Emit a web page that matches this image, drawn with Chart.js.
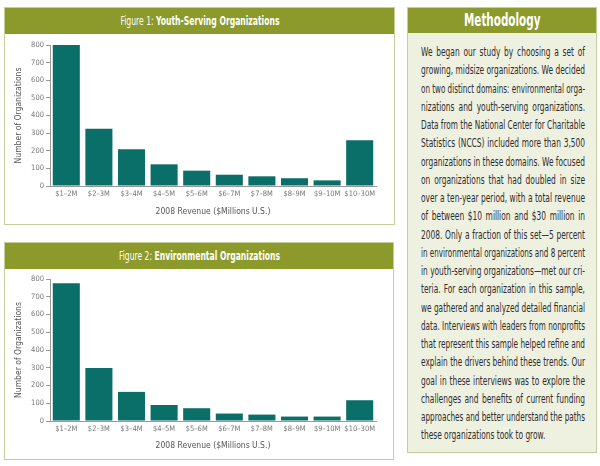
<!DOCTYPE html>
<html><head><meta charset="utf-8">
<script src="https://cdn.jsdelivr.net/npm/chart.js@4"></script>
<style>
html,body{margin:0;padding:0;background:#fff;width:600px;height:466px;overflow:hidden;font-family:"DejaVu Sans Condensed","Liberation Sans Narrow",sans-serif;}
.panel{position:absolute;border:1.5px solid #c6cd98;background:#fff;box-sizing:border-box;}
.hdr{position:absolute;left:0;right:0;top:0;background:#8b9a2a;color:#fff;text-align:center;overflow:hidden;}
.hdr span{display:inline-block;white-space:nowrap;transform:scaleX(0.68);}
#p1{left:4px;top:7px;width:391px;height:218px;}
#p2{left:4px;top:242px;width:390px;height:218px;}
#p1 .hdr,#p2 .hdr{height:26px;line-height:26px;font-size:12.5px;}
canvas{position:absolute;}
#meth{left:407px;top:7px;width:190px;height:446px;background:#eef0e0;}
#meth .hdr{height:25px;line-height:25px;font-size:17px;font-weight:bold;}
#txt{position:absolute;left:13px;top:35px;width:164px;font-size:12px;color:#2e2e2e;}
#txt div{height:18.25px;line-height:18.25px;white-space:nowrap;text-align:justify;text-align-last:justify;transform-origin:0 50%;}
#txt div.last{text-align-last:left;}
</style></head><body>
<div class="panel" id="p1"><div class="hdr"><span>Figure 1: <b>Youth-Serving Organizations</b></span></div></div>
<div class="panel" id="p2"><div class="hdr"><span>Figure 2: <b>Environmental Organizations</b></span></div></div>
<canvas id="c1" style="left:5px;top:34px;width:388px;height:190px" width="388" height="190"></canvas>
<canvas id="c2" style="left:5px;top:267px;width:388px;height:192px" width="388" height="192"></canvas>
<div class="panel" id="meth"><div class="hdr"><span>Methodology</span></div><div id="txt"></div></div>
<script>
const categories = ["$1–2M","$2–3M","$3–4M","$4–5M","$5–6M","$6–7M","$7–8M","$8–9M","$9–10M","$10–30M"];
const youthValues = [800, 325, 208, 123, 87, 64, 55, 44, 32, 259];
const envValues = [776, 299, 164, 90, 72, 42, 36, 25, 25, 117];
const yTicks = [0,100,200,300,400,500,600,700,800];
const xTitle = "2008 Revenue ($Millions U.S.)";
const yTitle = "Number of Organizations";
const methLines = [
"We began our study by choosing a set of",
"growing, midsize organizations. We decided",
"on two distinct domains: environmental orga-",
"nizations and youth-serving organizations.",
"Data from the National Center for Charitable",
"Statistics (NCCS) included more than 3,500",
"organizations in these domains. We focused",
"on organizations that had doubled in size",
"over a ten-year period, with a total revenue",
"of between $10 million and $30 million in",
"2008. Only a fraction of this set\u20145 percent",
"in environmental organizations and 8 percent",
"in youth-serving organizations\u2014met our cri-",
"teria. For each organization in this sample,",
"we gathered and analyzed detailed financial",
"data. Interviews with leaders from nonprofits",
"that represent this sample helped refine and",
"explain the drivers behind these trends. Our",
"goal in these interviews was to explore the",
"challenges and benefits of current funding",
"approaches and better understand the paths",
"these organizations took to grow."
];
const txt = document.getElementById('txt');
const TW = 164;
const divs = methLines.map((l,i)=>{const d=document.createElement('div');const s=document.createElement('span');s.textContent=l;d.appendChild(s);if(i===methLines.length-1)d.className='last';txt.appendChild(d);return d;});
const widths = divs.map(d=>d.firstChild.getBoundingClientRect().width);
const sorted = widths.slice(0,-1).sort((a,b)=>a-b);
const k = TW / sorted[Math.floor(sorted.length*0.5)];
divs.forEach((d,i)=>{
  let kk = Math.min(k, TW/widths[i]);
  if(i===divs.length-1) kk = k;
  d.style.width=(TW/kk)+'px';
  d.style.transform='scaleX('+kk+')';
  d.textContent=d.firstChild.textContent;
});
const FONT = '"DejaVu Sans Condensed","Liberation Sans Narrow",sans-serif';
function make(id, values, padTop, padBottom, xh){
  new Chart(document.getElementById(id), {
    type:'bar',
    data:{labels:categories,datasets:[{data:values,backgroundColor:'#0a6e69',barPercentage:0.83,categoryPercentage:1}]},
    options:{responsive:false,animation:false,devicePixelRatio:1,
      layout:{padding:{top:padTop,right:17,left:0,bottom:padBottom}},
      plugins:{legend:{display:false},tooltip:{enabled:false}},
      scales:{
        x:{grid:{display:true,drawOnChartArea:false,drawTicks:false},border:{color:'#999',width:1},
           ticks:{color:'#777',font:{family:FONT,size:7.5},padding:4,maxRotation:0,autoSkip:false},
           title:{display:true,text:xTitle,color:'#555',font:{family:FONT,size:8.5},padding:{top:2,bottom:0}},
           afterFit:s=>{s.height=xh;}},
        y:{min:0,max:800,afterBuildTicks:s=>{s.ticks=yTicks.map(v=>({value:v}));},
           grid:{display:true,drawOnChartArea:false,drawTicks:true,tickLength:4,color:'#999'},border:{color:'#999',width:1},
           ticks:{color:'#777',font:{family:FONT,size:7.5},padding:2},
           title:{display:true,text:yTitle,color:'#555',font:{family:FONT,size:8.5},padding:{top:9,bottom:0}},
           afterFit:s=>{s.width=45;}}
      }}
  });
}
make('c1', youthValues, 11, 7, 31);
make('c2', envValues, 12, 8, 30);
</script>
</body></html>
